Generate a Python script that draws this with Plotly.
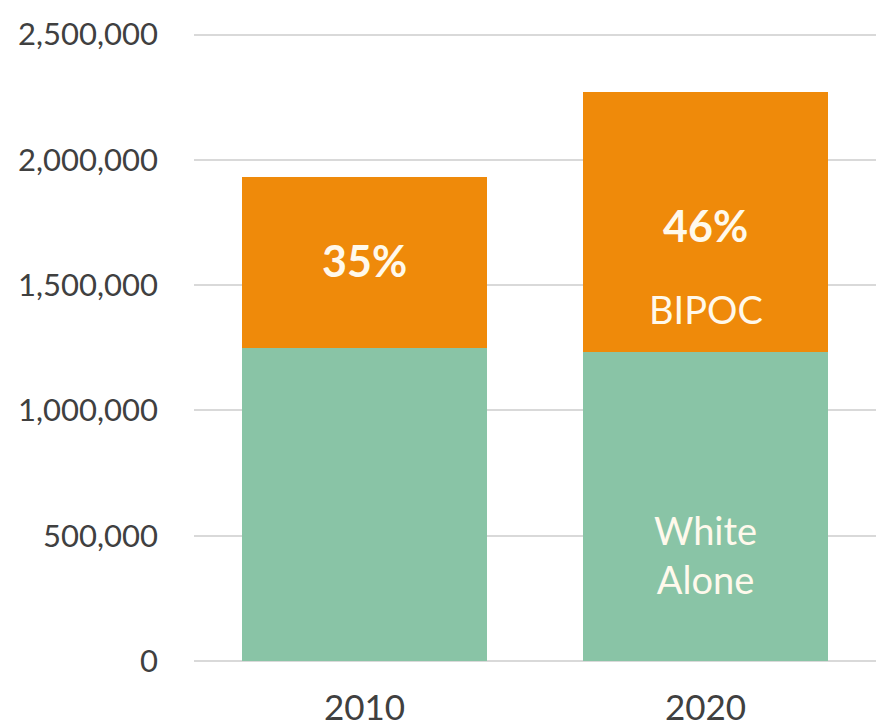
import plotly.graph_objects as go

years = ["2010", "2020"]
white_alone = [1250000, 1235000]
bipoc = [683000, 1035000]
y_ticks = [0, 500000, 1000000, 1500000, 2000000, 2500000]
y_tick_labels = ["0", "500,000", "1,000,000", "1,500,000", "2,000,000", "2,500,000"]

GREEN = "#89C4A6"
ORANGE = "#EF8A0A"
LABEL = "#FFF9EC"
FONT = "Lato"

fig = go.Figure()
fig.add_trace(go.Bar(x=years, y=white_alone, name="White Alone", marker=dict(color=GREEN, line=dict(width=0))))
fig.add_trace(go.Bar(x=years, y=bipoc, name="BIPOC", marker=dict(color=ORANGE, line=dict(width=0))))

annotations = []
pct_pos = [0.51, 0.485]
for i, yr in enumerate(years):
    total = white_alone[i] + bipoc[i]
    pct = round(100 * bipoc[i] / total)
    annotations.append(dict(x=i, y=white_alone[i] + bipoc[i] * pct_pos[i],
                            text=f"<b>{pct}%</b>", showarrow=False,
                            font=dict(family=FONT, size=43, color=LABEL), yanchor="middle"))
annotations.append(dict(x=1, y=white_alone[1] + bipoc[1] * 0.165, text="BIPOC", showarrow=False,
                        font=dict(family=FONT, size=38, color=LABEL), yanchor="middle"))
annotations.append(dict(x=1, y=white_alone[1] * 0.345, text="White<br>Alone", showarrow=False,
                        font=dict(family=FONT, size=38, color=LABEL), yanchor="middle", align="center"))

fig.update_layout(
    barmode="stack",
    bargap=0.28,
    width=876, height=728,
    margin=dict(l=194, r=0, t=33, b=67),
    plot_bgcolor="white", paper_bgcolor="white",
    showlegend=False,
    font=dict(family=FONT, color="#404040"),
    annotations=annotations,
    xaxis=dict(type="category", range=[-0.5, 1.5], showgrid=False, showline=False, ticks="",
               automargin=False,
               tickfont=dict(size=35, color="#404040"), ticklabelstandoff=23),
    yaxis=dict(range=[0, 2506000], tickvals=y_ticks, ticktext=y_tick_labels, automargin=False,
               showgrid=True, gridcolor="#D9D9D9", gridwidth=2, zeroline=True, zerolinecolor="#D9D9D9",
               zerolinewidth=2, showline=False, ticks="", tickfont=dict(size=31, color="#404040"),
               ticklabelstandoff=35),
)

fig.write_html("out.html", config={"displayModeBar": False},
               post_script="document.body.style.margin='0';document.body.style.overflow='hidden';")
